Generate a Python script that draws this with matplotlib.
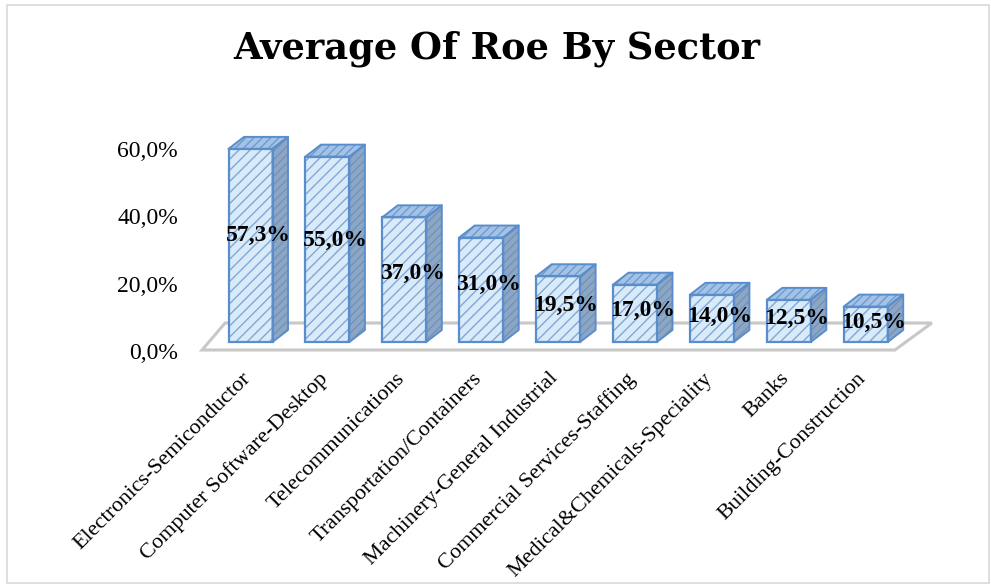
import matplotlib
matplotlib.use('Agg')
import matplotlib.pyplot as plt
from matplotlib.patches import Polygon, Rectangle

categories = ["Electronics-Semiconductor", "Computer Software-Desktop", "Telecommunications",
              "Transportation/Containers", "Machinery-General Industrial",
              "Commercial Services-Staffing", "Medical&Chemicals-Speciality", "Banks",
              "Building-Construction"]
roe = [57.3, 55.0, 37.0, 31.0, 19.5, 17.0, 14.0, 12.5, 10.5]
yticks = [0, 20, 40, 60]
title = "Average Of Roe By Sector"

W, H = 991, 585
fig = plt.figure(figsize=(W / 100, H / 100), dpi=100)

X0, DXPX, Y0PX, PXPER = 250.5, 76.9, 350, 3.37
axl, axr, axt = 190, 945, 110
ax = fig.add_axes([axl / W, (H - Y0PX) / H, (axr - axl) / W, (Y0PX - axt) / H])
ax.set_xlim((axl - X0) / DXPX, (axr - X0) / DXPX)
ax.set_ylim(0, (Y0PX - axt) / PXPER)
ax.axis('off')

n = len(roe)
x = list(range(n))
bw = 44 / DXPX
base = 8 / PXPER
ddx = 15.5 / DXPX
ddy = 12 / PXPER
fdy = 27 / PXPER

serif = 'Liberation Serif'

# floor
floor = Polygon([(-0.63, 0), (n - 1 + 0.38, 0), (n - 1 + 0.38 + 0.48, fdy), (-0.63 + 0.3, fdy)],
                closed=True, facecolor='white', edgecolor='#C8C8C8', lw=2.2, zorder=1,
                clip_on=False)
ax.add_patch(floor)

front_fill, front_hatch, edge = '#D9EAF9', '#7FA8D9', '#5A8DCB'
side_fill, side_hatch = '#8CA7C6', '#7591B6'
top_fill, top_hatch = '#A3C2E6', '#6F9BD0'

# front faces
ax.bar(x, roe, width=bw, bottom=base, color=front_fill, edgecolor=front_hatch,
       hatch='///', linewidth=0, zorder=3)
ax.bar(x, roe, width=bw, bottom=base, color='none', edgecolor=edge, linewidth=1.6, zorder=4)

for i, v in zip(x, roe):
    x0, x1 = i - bw / 2, i + bw / 2
    top = base + v
    tpts = [(x0, top), (x1, top), (x1 + ddx, top + ddy), (x0 + ddx, top + ddy)]
    spts = [(x1, base), (x1, top), (x1 + ddx, top + ddy), (x1 + ddx, base + ddy)]
    for pts, fc, hc in [(spts, side_fill, side_hatch), (tpts, top_fill, top_hatch)]:
        ax.add_patch(Polygon(pts, closed=True, facecolor=fc, edgecolor=hc, hatch='////',
                             lw=0, zorder=3, clip_on=False))
        ax.add_patch(Polygon(pts, closed=True, facecolor='none', edgecolor=edge, lw=1.4,
                             zorder=4, clip_on=False, joinstyle='round'))
    ax.text(i + ddx / 2, base + 0.55 * v, f"{v:.1f}%".replace('.', ','), ha='center',
            va='center', fontsize=17, fontweight='bold', family=serif, color='black',
            zorder=6)

# y tick labels
ytr = ax.get_yaxis_transform()
for t in yticks:
    ax.text(-12 / (axr - axl), t - 1.1, f"{t:.1f}%".replace('.', ','), transform=ytr,
            ha='right', va='center', fontsize=17, family=serif, color='black', clip_on=False)

# category labels
for i, c in enumerate(categories):
    ax.text(i - 0.12, -19 / PXPER, c, rotation=45, rotation_mode='anchor', ha='right',
            va='top', fontsize=16.0, family=serif, color='black', clip_on=False)

fig.text(497 / W, 1 - 49 / H, title, ha='center', va='center', fontsize=26.5,
         fontweight='bold', family='DejaVu Serif')

fig.add_artist(Rectangle((7 / W, (H - 583) / H), (989 - 7) / W, (583 - 5) / H,
                         transform=fig.transFigure, fill=False, edgecolor='#D9D9D9', lw=1.2))

fig.savefig('out.png', dpi=100)
